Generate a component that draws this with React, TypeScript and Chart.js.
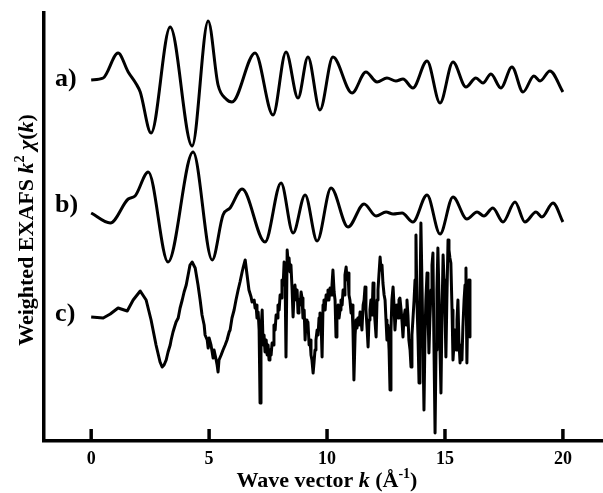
import React, { useEffect, useRef } from "react";
import { Chart, registerables } from "chart.js";

Chart.register(...registerables);

const SERIF = "'Liberation Serif', 'Times New Roman', serif";

// Wave vector k (Å^-1) positions and weighted k^2 chi(k) values (offset for display)
const kA = [0, 0.51, 1.14, 1.57, 1.91, 2.08, 2.54, 3.35, 4.28, 4.96, 5.38, 5.72, 5.97, 6.95, 7.71, 8.26, 8.77, 9.19, 9.70, 10.25, 11.06, 11.65, 12.12, 12.54, 12.92, 13.22, 13.64, 14.24, 14.79, 15.34, 15.89, 16.31, 16.61, 16.95, 17.37, 17.84, 18.31, 18.77, 19.03, 19.45, 20.0];
const yA = [36.0, 36.2, 38.7, 36.8, 35.6, 34.8, 30.7, 41.3, 29.4, 41.9, 35.5, 34.1, 33.8, 38.7, 32.5, 38.8, 34.2, 38.3, 33.0, 38.3, 34.7, 36.8, 35.8, 36.2, 35.9, 36.1, 35.2, 37.9, 33.7, 37.8, 35.3, 36.2, 35.7, 36.6, 35.2, 37.3, 34.8, 36.4, 35.9, 36.9, 34.8];

const kB = [0, 0.81, 1.57, 1.86, 2.42, 3.26, 4.32, 5.13, 5.59, 5.89, 6.40, 7.37, 8.05, 8.56, 9.07, 9.58, 10.17, 10.89, 11.57, 12.08, 12.50, 12.80, 13.18, 13.64, 14.24, 14.79, 15.34, 15.93, 16.36, 16.65, 17.03, 17.46, 17.97, 18.39, 18.86, 19.11, 19.58, 20.0];
const yB = [22.7, 21.7, 24.1, 24.4, 26.8, 17.8, 28.8, 18.0, 22.5, 23.2, 25.1, 19.8, 25.7, 20.7, 24.5, 19.9, 25.2, 21.3, 23.6, 22.4, 22.8, 22.6, 22.7, 21.8, 24.5, 20.6, 24.3, 22.1, 22.8, 22.4, 23.2, 21.8, 23.8, 21.8, 22.8, 22.3, 23.7, 21.8];

const kC = [
  0, 0.51, 0.81, 1.14, 1.40, 1.53, 1.78, 2.08, 2.33, 2.54, 2.75, 2.92,
  3.01, 3.09, 3.18, 3.26, 3.35, 3.39, 3.47, 3.56, 3.60, 3.69, 3.77, 3.86, 3.94, 4.03, 4.11, 4.19, 4.28,
  4.41, 4.53, 4.62, 4.70, 4.79, 4.83, 4.92, 4.96, 5.00, 5.08, 5.13, 5.17, 5.21, 5.30, 5.34, 5.38, 5.42,
  5.51, 5.59, 5.68, 5.76, 5.85, 5.89, 5.97, 6.06, 6.14, 6.23, 6.31, 6.40, 6.44, 6.53,
  6.61, 6.69, 6.78, 6.82, 6.91, 6.95, 6.99, 7.03, 7.08, 7.12, 7.16, 7.20, 7.25, 7.29, 7.33, 7.37, 7.42,
  7.46, 7.50, 7.54, 7.58, 7.63, 7.67, 7.71, 7.75, 7.80, 7.84, 7.88, 7.92, 7.97, 8.01, 8.05, 8.09, 8.14,
  8.18, 8.22, 8.26, 8.31, 8.35, 8.39, 8.43, 8.47, 8.52, 8.56, 8.60, 8.64, 8.69, 8.73, 8.77, 8.81, 8.86,
  8.90, 8.94, 8.98, 9.03, 9.07, 9.11, 9.15, 9.19, 9.24, 9.28, 9.32, 9.36, 9.41, 9.45, 9.49, 9.53, 9.58,
  9.62, 9.66, 9.70, 9.75, 9.79, 9.83, 9.87, 9.92, 9.96, 10.0, 10.04, 10.08, 10.13, 10.17, 10.21, 10.25,
  10.30, 10.34, 10.38, 10.42, 10.47, 10.51, 10.55, 10.59, 10.64, 10.68, 10.72, 10.76, 10.81, 10.85,
  10.89, 10.93, 10.97, 11.02, 11.06, 11.10, 11.14, 11.19, 11.23, 11.27, 11.31, 11.36, 11.40, 11.44,
  11.48, 11.53, 11.57, 11.61, 11.65, 11.69, 11.74, 11.78, 11.82, 11.86, 11.91, 11.95, 11.99, 12.03,
  12.08, 12.12, 12.16, 12.20, 12.25, 12.29, 12.33, 12.37, 12.42, 12.46, 12.50, 12.54, 12.58, 12.63,
  12.67, 12.71, 12.75, 12.80, 12.84, 12.88, 12.92, 12.97, 13.01, 13.05, 13.09, 13.14, 13.18, 13.22,
  13.26, 13.31, 13.35, 13.39, 13.43, 13.47, 13.52, 13.56, 13.60, 13.64, 13.69, 13.73, 13.77, 13.81,
  13.86, 13.90, 13.94, 13.98, 14.03, 14.07, 14.11, 14.15, 14.19, 14.24, 14.28, 14.32, 14.36, 14.41,
  14.45, 14.49, 14.53, 14.58, 14.62, 14.66, 14.70, 14.75, 14.79, 14.83, 14.87, 14.92, 14.96, 15.00,
  15.04, 15.08, 15.13, 15.17, 15.21, 15.25, 15.30, 15.34, 15.38, 15.42, 15.47, 15.51, 15.55, 15.59,
  15.64, 15.68, 15.72, 15.76, 15.81, 15.85, 15.89, 15.93, 15.97, 16.02, 16.06,
];
const yC = [
  12.3, 12.2, 12.6, 13.2, 13.0, 12.9, 14.0, 14.9, 14.0, 12.0, 9.5, 7.8,
  7.3, 7.5, 8.0, 8.8, 9.5, 10.0, 10.8, 11.5, 11.8, 12.2, 13.2, 14.0, 14.8, 15.5, 16.5, 17.5, 17.8,
  17.2, 15.5, 14.0, 12.5, 11.5, 10.5, 10.0, 9.2, 10.2, 9.5, 8.8, 8.2, 9.0, 8.0, 7.5, 6.8, 8.0,
  8.5, 9.0, 9.5, 10.0, 10.8, 11.0, 12.2, 13.0, 14.0, 15.0, 15.8, 16.8, 17.2, 18.0,
  16.5, 15.0, 14.3, 13.8, 14.0, 13.2, 13.5, 12.2, 12.8, 11.0, 3.7, 11.0, 13.0, 9.5, 10.5, 8.8, 10.0,
  8.5, 9.5, 8.0, 9.0, 8.5, 9.7, 9.5, 11.5, 11.0, 12.5, 12.2, 13.5, 13.0, 14.5, 14.2, 16.0, 15.5,
  17.8, 16.5, 8.3, 19.0, 17.8, 18.2, 16.8, 17.5, 15.0, 12.3, 14.5, 15.5, 14.0, 15.0, 12.7, 14.0, 13.5,
  14.8, 14.2, 12.2, 13.0, 10.0, 12.0, 11.0, 11.8, 9.5, 10.0, 8.5, 8.0, 6.7, 7.8, 9.0, 10.0, 11.0,
  10.5, 12.2, 12.7, 11.5, 8.3, 13.5, 14.0, 13.0, 14.5, 14.0, 15.0, 14.0, 15.2, 14.5, 15.5, 17.0,
  14.8, 14.0, 10.3, 13.0, 13.5, 12.2, 13.0, 14.0, 13.5, 15.0, 14.5, 16.5, 17.3, 16.0,
  16.7, 14.5, 14.0, 12.7, 13.5, 11.0, 6.0, 10.5, 12.0, 11.2, 12.2, 11.5, 12.8, 12.0,
  11.0, 13.5, 14.0, 15.3, 13.0, 11.5, 9.3, 12.0, 13.0, 14.0, 12.5, 15.7, 13.5, 12.0,
  10.3, 14.0, 15.0, 16.5, 18.3, 17.0, 17.5, 15.7, 14.5, 14.0, 12.0, 10.0, 11.5, 9.0,
  5.0, 11.0, 14.0, 15.3, 13.5, 11.0, 12.5, 13.5, 12.2, 14.0, 14.2, 13.0, 11.8, 10.3,
  12.2, 13.0, 11.5, 14.0, 12.5, 10.0, 9.0, 7.3, 10.5, 12.0, 14.0, 16.0, 20.5, 14.0,
  10.0, 5.7, 14.0, 21.7, 15.0, 9.0, 3.0, 10.0, 14.0, 16.7, 13.0, 8.7, 12.0, 15.0,
  17.5, 18.7, 10.0, 0.7, 9.0, 15.0, 19.2, 14.0, 9.0, 4.7, 12.0, 18.5, 16.0, 13.0,
  8.3, 14.0, 20.0, 19.0, 18.2, 17.7, 13.0, 8.0, 9.5, 11.0, 9.0, 12.0, 14.0, 10.0,
  7.7, 9.5, 8.0, 11.3, 14.0, 15.5, 17.2, 7.7, 14.0, 16.0, 10.3,
];

const seriesNames = ["a)", "b)", "c)"];
const labelY = [35.4, 22.8, 11.9];
const xTicks = [0, 5, 10, 15, 20];

type Part = { t: string; italic?: boolean; sup?: boolean };

const xTitle: Part[] = [
  { t: "Wave vector " },
  { t: "k", italic: true },
  { t: " (Å" },
  { t: "-1", sup: true },
  { t: ")" },
];
const yTitle: Part[] = [
  { t: "Weighted EXAFS " },
  { t: "k", italic: true },
  { t: "2", sup: true },
  { t: " " },
  { t: "χ", italic: true },
  { t: "(" },
  { t: "k", italic: true },
  { t: ")" },
];

function drawRich(ctx: CanvasRenderingContext2D, parts: Part[], cx: number, baseline: number, size: number) {
  const fontFor = (p: Part) =>
    `${p.italic ? "italic " : ""}bold ${p.sup ? Math.round(size * 0.62) : size}px ${SERIF}`;
  let total = 0;
  const widths = parts.map((p) => {
    ctx.font = fontFor(p);
    const w = ctx.measureText(p.t).width;
    total += w;
    return w;
  });
  let x = cx - total / 2;
  ctx.textAlign = "left";
  ctx.textBaseline = "alphabetic";
  parts.forEach((p, i) => {
    ctx.font = fontFor(p);
    ctx.fillText(p.t, x, p.sup ? baseline - size * 0.4 : baseline);
    x += widths[i];
  });
}

const annotPlugin = {
  id: "annot",
  afterDraw(chart: any) {
    const { ctx, chartArea } = chart;
    const xs = chart.scales.x;
    const ys = chart.scales.y;
    ctx.save();
    ctx.strokeStyle = "#000";
    ctx.fillStyle = "#000";
    ctx.lineWidth = 3.5;
    for (const v of xTicks) {
      const px = xs.getPixelForValue(v);
      ctx.beginPath();
      ctx.moveTo(px, chartArea.bottom);
      ctx.lineTo(px, chartArea.bottom - 12);
      ctx.stroke();
    }
    ctx.font = `bold 26px ${SERIF}`;
    ctx.textAlign = "left";
    ctx.textBaseline = "alphabetic";
    seriesNames.forEach((n, i) => {
      ctx.fillText(n, xs.getPixelForValue(-1.53), ys.getPixelForValue(labelY[i]));
    });
    drawRich(ctx, xTitle, 327, 487, 22);
    ctx.translate(33, 230);
    ctx.rotate(-Math.PI / 2);
    drawRich(ctx, yTitle, 0, 0, 22);
    ctx.restore();
  },
};

export default function App() {
  const ref = useRef<HTMLCanvasElement | null>(null);
  useEffect(() => {
    document.body.style.margin = "0";
    const canvas = ref.current!;
    const mk = (ks: number[], ys: number[]) => ks.map((k, i) => ({ x: k, y: ys[i] }));
    const chart = new Chart(canvas, {
      type: "line",
      data: {
        datasets: [
          { label: "a", data: mk(kA, yA), borderColor: "#000", borderWidth: 3, pointRadius: 0, cubicInterpolationMode: "monotone", fill: false },
          { label: "b", data: mk(kB, yB), borderColor: "#000", borderWidth: 3, pointRadius: 0, cubicInterpolationMode: "monotone", fill: false },
          { label: "c", data: mk(kC, yC), borderColor: "#000", borderWidth: 3, pointRadius: 0, tension: 0, borderJoinStyle: "round", fill: false },
        ],
      } as any,
      options: {
        animation: false,
        responsive: false,
        devicePixelRatio: 1,
        layout: { padding: { top: 13, left: 0, right: 0, bottom: 0 } },
        plugins: { legend: { display: false }, tooltip: { enabled: false } },
        scales: {
          x: {
            type: "linear",
            min: -2,
            max: 21.7,
            grid: { display: false, drawTicks: false },
            border: { display: true, color: "#000", width: 3.5 },
            ticks: { color: "#000", font: { family: SERIF, size: 18, weight: "bold" }, padding: 8, maxRotation: 0 },
            afterBuildTicks: (s: any) => {
              s.ticks = xTicks.map((v) => ({ value: v }));
            },
            afterFit: (s: any) => {
              s.height = 52;
            },
          },
          y: {
            type: "linear",
            min: -0.1,
            max: 42.7,
            grid: { display: false, drawTicks: false },
            border: { display: true, color: "#000", width: 3.5 },
            ticks: { display: false },
            afterFit: (s: any) => {
              s.width = 44;
            },
          },
        },
      } as any,
      plugins: [annotPlugin],
    });
    return () => chart.destroy();
  }, []);
  return <canvas ref={ref} width={603} height={493} style={{ display: "block" }} />;
}
